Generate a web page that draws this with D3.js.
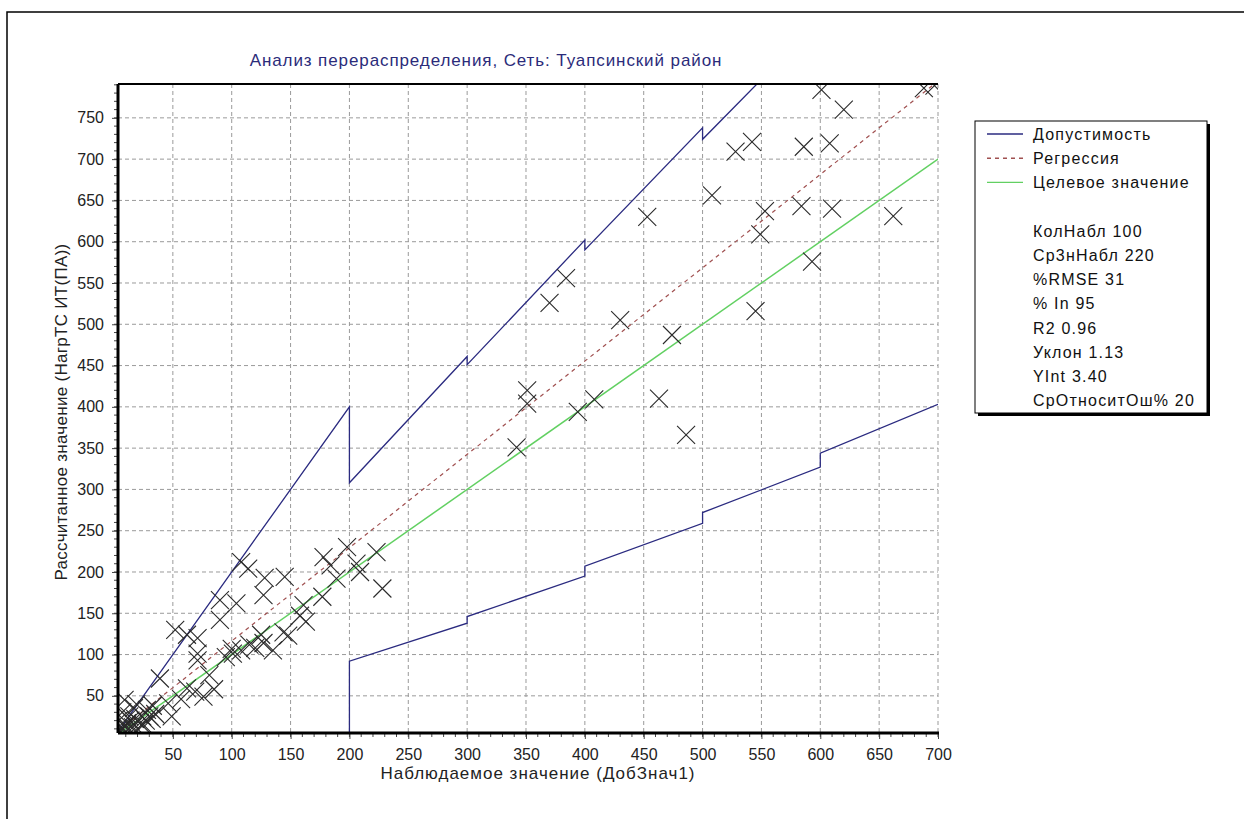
<!DOCTYPE html>
<html>
<head>
<meta charset="utf-8">
<script src="https://cdn.jsdelivr.net/npm/d3@7"></script>
<style>
  body { margin: 0; background: #fff; }
  svg { display: block; font-family: "Liberation Sans", Arial, sans-serif; }
</style>
</head>
<body>
<svg id="chart" width="1244" height="819"></svg>
<script>
let obs_x = [
    601, 620, 688, 697, 542, 528, 586, 608, 508, 453,
    553, 584, 610, 662, 549, 593, 384, 370, 430, 545,
    474, 351, 351, 342, 394, 408, 463, 486,
    108, 114, 128, 145, 178, 198, 184, 206, 223, 228,
    189, 209, 177, 161, 158, 163, 148,
    127, 104, 90, 90, 52, 62, 71, 71, 71, 81,
    100, 101, 108, 125, 135, 127, 144, 39, 62, 76,
    69, 49, 46, 9, 13, 24, 30, 22, 11, 17,
    28, 57, 85, 95, 115, 120,
    5, 6, 8, 10, 12, 14, 16, 18, 20, 25,
    27, 32, 35, 7, 4, 19, 9, 33
];
let calc_y = [
    784, 760, 786, 789, 721, 709, 715, 719, 656, 630,
    637, 643, 640, 631, 609, 576, 556, 526, 505, 516,
    487, 420, 404, 351, 394, 409, 410, 366,
    212, 204, 193, 194, 218, 230, 208, 210, 224, 180,
    192, 200, 170, 160, 147, 140, 123,
    172, 162, 166, 142, 130, 124, 120, 101, 93, 75,
    107, 101, 105, 124, 105, 114, 127, 71, 59, 49,
    55, 25, 41, 45, 25, 25, 25, 17, 17, 35,
    33, 46, 58, 97, 112, 108,
    8, 12, 10, 14, 9, 20, 12, 22, 10, 15,
    20, 22, 28, 30, 20, 40, 6, 38
];

// tolerance band vertices
let upper_x = [0, 200, 200, 300, 300, 400, 400, 500, 500, 600];
let upper_y = [0, 400, 308, 461, 451, 602, 590, 738, 724, 869];
let lower_x = [200, 200, 300, 300, 400, 400, 500, 500, 600, 600, 700];
let lower_y = [0, 92, 138, 146, 195, 207, 259, 272, 327, 344, 403];

// regression (slope 1.13, intercept 3.40) and target line
let reg_x = [0, 700];
let reg_y = [3.4, 794.4];
let target_x = [0, 700];
let target_y = [0, 700];

let x_ticks = d3.range(50, 701, 50);
let y_ticks = d3.range(50, 751, 50);

let legend_items = ["Допустимость", "Регрессия", "Целевое значение"];
let stats_lines = ["КолНабл 100", "Ср3нНабл 220", "%RMSE 31", "% In 95", "R2 0.96",
    "Уклон 1.13", "YInt 3.40", "СрОтноситОш% 20"];

let title_text = "Анализ перераспределения, Сеть: Туапсинский район";
let x_title = "Наблюдаемое значение (ДобЗнач1)";
let y_title = "Рассчитанное значение (НагрТС ИТ(ПА))";

let band_color = "#2b2b80";
let reg_color = "#a05050";
let target_color = "#62d062";

let p_left = 118, p_top = 84, p_right = 938, p_bottom = 733;

let svg = d3.select("#chart");

// outer frame
svg.append("rect").attr("x", 7).attr("y", 12).attr("width", 1260).attr("height", 830)
    .attr("fill", "#fff").attr("stroke", "#000").attr("stroke-width", 1.5);

let x = d3.scaleLinear().domain([3.4, 700]).range([p_left, p_right]);
let y = d3.scaleLinear().domain([5, 791]).range([p_bottom, p_top]);

svg.append("defs").append("clipPath").attr("id", "plotclip")
    .append("rect").attr("x", p_left).attr("y", p_top)
    .attr("width", p_right - p_left).attr("height", p_bottom - p_top);

// grid
let grid = svg.append("g").attr("stroke", "#9a9a9a").attr("stroke-dasharray", "4,3").attr("stroke-width", 1);
grid.selectAll("line.v").data(x_ticks).join("line").attr("class", "v")
    .attr("x1", d => x(d)).attr("x2", d => x(d)).attr("y1", p_top).attr("y2", p_bottom);
grid.selectAll("line.h").data(y_ticks).join("line").attr("class", "h")
    .attr("x1", p_left).attr("x2", p_right).attr("y1", d => y(d)).attr("y2", d => y(d));

let plot = svg.append("g").attr("clip-path", "url(#plotclip)");
let line = d3.line().x(d => x(d[0])).y(d => y(d[1]));

plot.append("path").datum(d3.zip(target_x, target_y)).attr("d", line)
    .attr("fill", "none").attr("stroke", target_color).attr("stroke-width", 1.5);
plot.append("path").datum(d3.zip(reg_x, reg_y)).attr("d", line)
    .attr("fill", "none").attr("stroke", reg_color).attr("stroke-width", 1.2)
    .attr("stroke-dasharray", "4,4");
plot.append("path").datum(d3.zip(upper_x, upper_y)).attr("d", line)
    .attr("fill", "none").attr("stroke", band_color).attr("stroke-width", 1.3);
plot.append("path").datum(d3.zip(lower_x, lower_y)).attr("d", line)
    .attr("fill", "none").attr("stroke", band_color).attr("stroke-width", 1.3);

// X markers
let s = 9;
plot.append("g").selectAll("path").data(d3.zip(obs_x, calc_y)).join("path")
    .attr("d", d => {
        let cx = x(d[0]), cy = y(d[1]);
        return `M${cx - s},${cy - s}L${cx + s},${cy + s}M${cx - s},${cy + s}L${cx + s},${cy - s}`;
    })
    .attr("stroke", "#2a2a2a").attr("stroke-width", 1.1).attr("fill", "none");

// axes
let x_axis = svg.append("g").attr("transform", `translate(0,${p_bottom})`)
    .call(d3.axisBottom(x).tickValues(x_ticks).tickSize(6).tickPadding(10));
x_axis.append("g").selectAll("line").data(d3.range(10, 701, 10)).join("line")
    .attr("x1", d => x(d)).attr("x2", d => x(d)).attr("y1", 0).attr("y2", 4)
    .attr("stroke", "#444");
let y_axis = svg.append("g").attr("transform", `translate(${p_left},0)`)
    .call(d3.axisLeft(y).tickValues(y_ticks).tickSize(6).tickPadding(8));
y_axis.append("g").selectAll("line").data(d3.range(10, 791, 10)).join("line")
    .attr("y1", d => y(d)).attr("y2", d => y(d)).attr("x1", 0).attr("x2", -4)
    .attr("stroke", "#444");
[x_axis, y_axis].forEach(a => {
    a.select(".domain").remove();
    a.selectAll(".tick line").attr("stroke", "#444");
    a.selectAll(".tick text").style("font-size", "16px").attr("fill", "#222")
        .style("font-family", "'Liberation Sans', Arial, sans-serif");
});

// frame of plot area
svg.append("line").attr("x1", p_left).attr("x2", p_right).attr("y1", p_top).attr("y2", p_top)
    .attr("stroke", "#000").attr("stroke-width", 2);
svg.append("line").attr("x1", p_left).attr("x2", p_left).attr("y1", p_top).attr("y2", p_bottom)
    .attr("stroke", "#000").attr("stroke-width", 3);
svg.append("line").attr("x1", p_left).attr("x2", p_right + 1).attr("y1", p_bottom).attr("y2", p_bottom)
    .attr("stroke", "#000").attr("stroke-width", 3);

// titles
svg.append("text").attr("x", 486).attr("y", 66).attr("text-anchor", "middle")
    .style("font-size", "17px").style("letter-spacing", "0.9px").attr("fill", "#2b2b7a").text(title_text);
svg.append("text").attr("x", 538).attr("y", 779).attr("text-anchor", "middle")
    .style("font-size", "17px").style("letter-spacing", "1px").attr("fill", "#222").text(x_title);
svg.append("text").attr("transform", "translate(67,412) rotate(-90)").attr("text-anchor", "middle")
    .style("font-size", "17px").style("letter-spacing", "0.3px").attr("fill", "#222").text(y_title);

// legend
let lg = svg.append("g").attr("transform", "translate(975,121)");
lg.append("rect").attr("x", 3).attr("y", 3).attr("width", 232).attr("height", 292).attr("fill", "#000");
lg.append("rect").attr("x", 0).attr("y", 0).attr("width", 232).attr("height", 292)
    .attr("fill", "#fff").attr("stroke", "#000").attr("stroke-width", 1);
let row = 24.2;
let styles = [[band_color, null], [reg_color, "4,4"], [target_color, null]];
legend_items.forEach((t, i) => {
    let yy = 13 + i * row;
    lg.append("line").attr("x1", 12).attr("x2", 48).attr("y1", yy).attr("y2", yy)
        .attr("stroke", styles[i][0]).attr("stroke-width", 1.4)
        .attr("stroke-dasharray", styles[i][1]);
    lg.append("text").attr("x", 58).attr("y", yy + 6).style("font-size", "16px")
        .style("letter-spacing", "1.2px").attr("fill", "#111").text(t);
});
stats_lines.forEach((t, i) => {
    let yy = 13 + (i + 4) * row;
    lg.append("text").attr("x", 58).attr("y", yy + 6).style("font-size", "16px")
        .style("letter-spacing", "1.2px").attr("fill", "#111").text(t);
});
</script>
</body>
</html>
